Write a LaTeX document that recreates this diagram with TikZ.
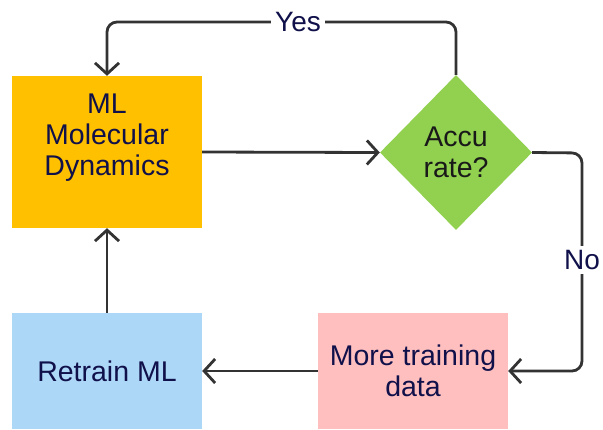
\documentclass[tikz,border=0pt]{standalone}
\usepackage{fontspec}
\setmainfont{Liberation Sans}
\usetikzlibrary{shapes.geometric,arrows.meta}
\definecolor{mdorange}{HTML}{FFC000}
\definecolor{accgreen}{HTML}{92D050}
\definecolor{rtblue}{HTML}{ADD7F7}
\definecolor{mtpink}{HTML}{FFBFBF}
\definecolor{linegray}{HTML}{333333}
\definecolor{navytext}{HTML}{10104A}
\tikzset{
  boxnode/.style={draw=none, minimum width=190pt, minimum height=116pt, inner sep=0pt, align=center, text=navytext, font=\fontsize{28.5}{31}\selectfont},
  connector/.style={draw=linegray, line width=2.8pt, rounded corners=10pt, -{Straight Barb[length=11pt,width=24pt]}},
  edgelabel/.style={fill=white, text=navytext, inner sep=4pt, font=\fontsize{28}{31}\selectfont}
}
\begin{document}
\begin{tikzpicture}[x=1pt,y=-1pt]
\useasboundingbox (0,0) rectangle (603,429);
\node[boxnode, fill=mdorange, minimum height=152pt] (md) at (107,152) {};
\node[boxnode, text=navytext] (mdtext) at ([yshift=14pt]md.center) {ML\\Molecular\\Dynamics};
\node[shape=diamond, fill=accgreen, minimum width=152pt, minimum height=155pt, inner sep=0pt, align=center, text=black!90, font=\fontsize{28.5}{31}\selectfont] (acc) at (456,152.5) {Accu\\rate?};
\node[boxnode, fill=mtpink] (more) at (413,371) {More training\\data};
\node[boxnode, fill=rtblue] (retrain) at (107,371) {Retrain ML};
\coordinate (yesl) at (107,22);
\coordinate (yesr) at (456,22);
\coordinate (not) at (582,153);
\coordinate (nob) at (582,371);
\draw[connector] (md.east) -- (acc.west);
\draw[connector] (acc.north) -- (yesr) -- (yesl) -- (md.north);
\node[edgelabel] (yes) at (298,22) {Yes};
\draw[connector] (acc.east) -- (not) -- (nob) -- (more.east);
\node[edgelabel] (no) at (582,260) {No};
\draw[connector] (more.west) -- (retrain.east);
\draw[connector] (retrain.north) -- (md.south);
\end{tikzpicture}
\end{document}
